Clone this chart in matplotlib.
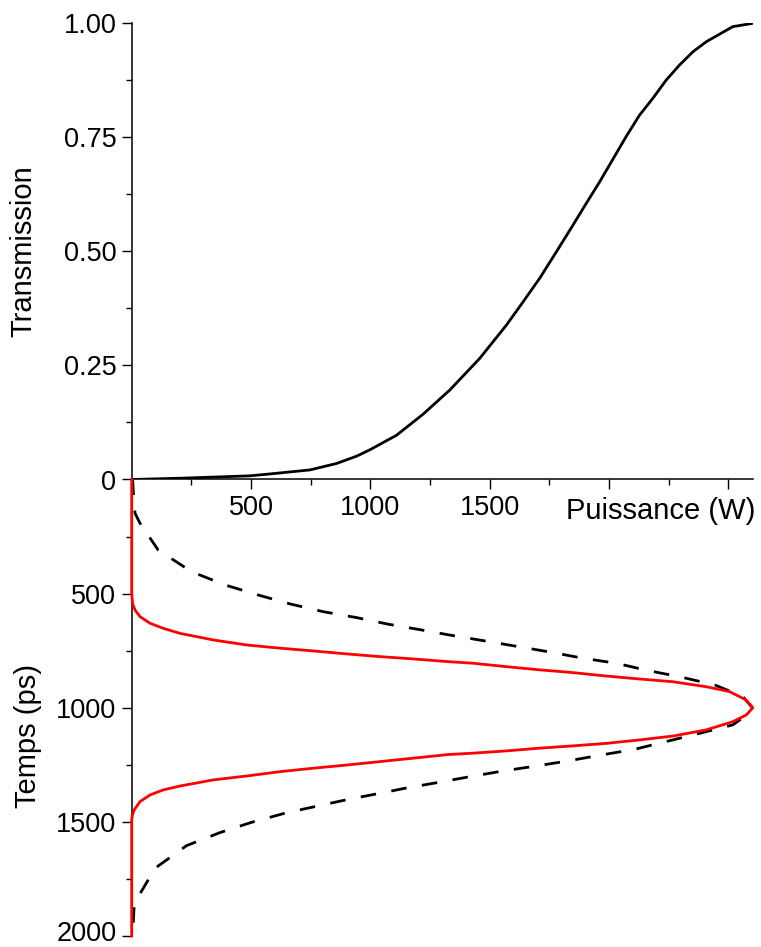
import numpy as np
import matplotlib
matplotlib.use("Agg")
import matplotlib.pyplot as plt
from matplotlib.ticker import MultipleLocator, FixedLocator
from matplotlib.transforms import ScaledTranslation

plt.rcParams['font.family'] = ['Liberation Sans', 'DejaVu Sans']

# courbe de transmission
puissance_T = [0, 216, 495, 607, 747, 858, 942, 998, 1110, 1221, 1333, 1458, 1570, 1640,
               1710, 1780, 1849, 1905, 1961, 2073, 2128, 2184, 2240, 2296, 2352, 2408,
               2519, 2603]
transmission = [0, 0.003, 0.008, 0.0136, 0.021, 0.035, 0.051, 0.065, 0.097, 0.143, 0.196,
                0.265, 0.338, 0.389, 0.441, 0.499, 0.557, 0.605, 0.652, 0.752, 0.798,
                0.835, 0.875, 0.908, 0.937, 0.959, 0.992, 0.9993]

# impulsion d'entree (tirets)
temps_in = [0, 60, 148, 192, 309, 404, 462, 506, 545, 579, 605, 634, 659, 681, 707, 732,
            757, 783, 805, 837, 864, 900, 950, 1002, 1045, 1075, 1112, 1148, 1182, 1207,
            1233, 1255, 1277, 1302, 1326, 1353, 1372, 1400, 1430, 1462, 1502, 1547, 1604,
            1703, 1827, 1871, 2000]
puiss_in = [4, 7, 14, 35, 111, 251, 391, 530, 663, 802, 942, 1075, 1214, 1330, 1479, 1619,
            1759, 1891, 2031, 2163, 2296, 2443, 2560, 2603, 2560, 2519, 2380, 2240, 2108,
            1968, 1828, 1696, 1556, 1417, 1291, 1144, 1054, 914, 781, 642, 502, 370, 230,
            98, 28, 10, 4]

# impulsion de sortie (rouge)
temps_out = [0, 498, 545, 572, 601, 630, 652, 674, 703, 725, 739, 751, 764, 776, 786, 798,
             805, 820, 834, 846, 861, 874, 886, 908, 929, 966, 1000, 1032, 1061, 1097, 1124,
             1141, 1156, 1167, 1177, 1189, 1199, 1205, 1221, 1236, 1251, 1265, 1280, 1299,
             1316, 1343, 1360, 1382, 1411, 1448, 1470, 1491, 2000]
puiss_out = [0, 0, 4, 14, 35, 77, 132, 202, 342, 482, 621, 760, 900, 1040, 1179, 1326,
             1431, 1570, 1710, 1849, 1989, 2128, 2268, 2408, 2505, 2575, 2603, 2575, 2519,
             2408, 2268, 2128, 1989, 1849, 1710, 1570, 1431, 1326, 1179, 1040, 900, 760,
             621, 482, 342, 202, 132, 77, 35, 10, 3, 0, 0]

fig = plt.figure(figsize=(7.61, 9.47), dpi=100)
g = 131.7 / 761
w = (753.3 - 131.7) / 761
ax_T = fig.add_axes([g, (947 - 479.5) / 947, w, 456.5 / 947])
ax_t = fig.add_axes([g, (947 - 936) / 947, w, 456.5 / 947])
ax_t.patch.set_visible(False)  # sinon cache les labels de l'axe du haut

ax_T.plot(puissance_T, transmission, color='k', lw=2.0, zorder=3)
ax_t.plot(puiss_in, temps_in, color='k', lw=2.0, dashes=(5.6, 5.6), zorder=3)
ax_t.plot(puiss_out, temps_out, color='#ff0000', lw=2.0, zorder=4, clip_on=False)

ax_T.set_xlim(0, 2605)
ax_T.set_ylim(0, 1)
ax_t.set_xlim(0, 2605)
ax_t.set_ylim(2000, 0)

for a in (ax_T, ax_t):
    a.spines['top'].set_visible(False)
    a.spines['right'].set_visible(False)
    a.spines['left'].set_linewidth(1.1)
    a.spines['bottom'].set_linewidth(1.1)
    a.tick_params(which='major', length=7.5, width=1.0, labelsize=19.5, pad=3.5)
    a.tick_params(which='minor', length=4.3, width=1.0)
ax_t.spines['bottom'].set_visible(False)
ax_t.set_xticks([])

# axe haut : puissance
ax_T.xaxis.set_major_locator(FixedLocator([0, 500, 1000, 1500, 2000, 2500]))
ax_T.set_xticklabels(['', '500', '1000', '1500', '', ''])
ax_T.xaxis.set_minor_locator(MultipleLocator(250))
ax_T.set_yticks([0, 0.25, 0.5, 0.75, 1.0])
ax_T.set_yticklabels(['0', '0.25', '0.50', '0.75', '1.00'])
ax_T.yaxis.set_minor_locator(MultipleLocator(0.125))

ax_t.set_yticks([500, 1000, 1500, 2000])
ax_t.yaxis.set_minor_locator(FixedLocator([250, 750, 1250, 1750]))
# le label 2000 touche le bas de la figure : on le remonte un peu
lbl_2000 = ax_t.get_yticklabels()[-1]
lbl_2000.set_transform(lbl_2000.get_transform() + ScaledTranslation(0, 5.5 / 100, fig.dpi_scale_trans))

ax_T.set_ylabel("Transmission", fontsize=21)
ax_T.yaxis.set_label_coords(-0.152, 0.5)
ax_t.set_ylabel("Temps (ps)", fontsize=21)
ax_t.yaxis.set_label_coords(-0.144, 0.438)

lab = ax_T.set_xlabel("Puissance (W)", fontsize=21)
lab.set_ha('right')
lab.set_va('center')
ax_T.xaxis.set_label_coords(1.003, -0.068)

fig.savefig("out.png", dpi=100)
